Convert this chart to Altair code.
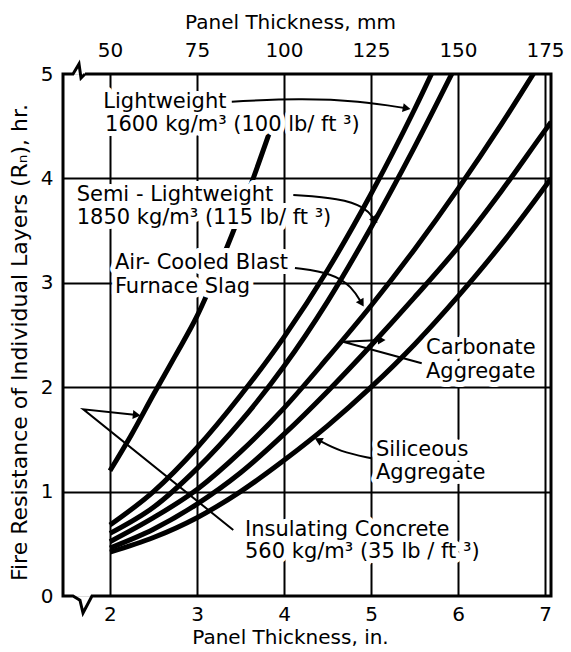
import altair as alt
import pandas as pd

FONT = "DejaVu Sans"

# ---- curve data (x = panel thickness in., y = fire resistance hr) ----
thickness_in = [2.0, 2.5, 3.0, 3.5, 4.0, 4.5, 5.0, 5.5, 6.0, 6.5, 7.0, 7.07]
lightweight = [0.68, 1.00, 1.42, 1.92, 2.48, 3.12, 3.85, 4.66, 5.55]
semi_lightweight = [0.60, 0.85, 1.22, 1.67, 2.20, 2.82, 3.53, 4.30, 5.12]
slag = [0.52, 0.75, 1.02, 1.38, 1.80, 2.28, 2.78, 3.32, 3.90, 4.52, 5.18]
carbonate = [0.46, 0.64, 0.88, 1.18, 1.55, 1.96, 2.40, 2.86, 3.34, 3.88, 4.46, 4.54]
siliceous = [0.42, 0.56, 0.75, 1.00, 1.30, 1.63, 2.00, 2.41, 2.87, 3.37, 3.92, 4.00]

insulating_in = [2.0, 2.25, 2.5, 2.75, 3.0, 3.25, 3.5, 3.85]
insulating = [1.20, 1.55, 1.93, 2.30, 2.68, 3.15, 3.67, 4.48]

# axis tick values
x_ticks = [2, 3, 4, 5, 6, 7]
y_ticks = [0, 1, 2, 3, 4, 5]

# ---- annotation labels ----
label_text = [
    "Lightweight", "1600 kg/m³ (100 lb/ ft ³)",
    "Semi - Lightweight", "1850 kg/m³ (115 lb/ ft ³)",
    "Air- Cooled Blast", "Furnace Slag",
    "Carbonate", "Aggregate",
    "Siliceous", "Aggregate",
    "Insulating Concrete", "560 kg/m³ (35 lb / ft ³)",
]
label_x = [1.923, 1.943, 1.617, 1.617, 2.057, 2.057, 5.632, 5.632, 5.057, 5.057, 3.552, 3.552]
label_y = [4.735, 4.51, 3.84, 3.62, 3.187, 2.963, 2.372, 2.148, 1.398, 1.175, 0.632, 0.425]

# ---- arrows (curved) ----
curved_id = ["lw"] * 4 + ["semi"] * 4 + ["air"] * 4 + ["sil"] * 3
curved_x = [3.40, 4.184, 4.874, 5.41, 4.107, 4.644, 4.931, 5.046, 4.126, 4.563, 4.782, 4.893, 5.008, 4.644, 4.394]
curved_y = [4.735, 4.767, 4.741, 4.671, 3.841, 3.809, 3.726, 3.602, 3.142, 3.091, 2.96, 2.804, 1.319, 1.382, 1.494]

# ---- leaders (straight) ----
leader_id = ["carb"] * 3 + ["ins"] * 3
leader_x = [5.583, 4.678, 5.123, 3.417, 1.693, 2.307]
leader_y = [2.229, 2.436, 2.452, 0.632, 1.788, 1.734]

# arrow heads
head_x = [5.41, 5.046, 4.893, 5.123, 4.394, 2.307]
head_y = [4.671, 3.602, 2.804, 2.452, 1.494, 1.734]
head_angle = [11, 52, 59, 358, 208, 6]

# frame with axis-break marks
frame_x = [1.713, 7.069, 7.069, 1.793, 1.690, 1.655, 1.575, 1.46, 1.46, 1.575, 1.644, 1.667, 1.713]
frame_y = [5.0, 5.0, 0.0, 0.0, -0.163, -0.04, 0.0, 0.0, 5.0, 5.0, 5.096, 4.962, 5.0]

# ---- build tables ----
rows = []
for name, vals, xs in [
    ("Lightweight", lightweight, thickness_in),
    ("Semi-Lightweight", semi_lightweight, thickness_in),
    ("Slag", slag, thickness_in),
    ("Carbonate", carbonate, thickness_in),
    ("Siliceous", siliceous, thickness_in),
    ("Insulating", insulating, insulating_in),
]:
    for xv, yv in zip(xs, vals):
        rows.append({"series": name, "x": xv, "y": yv})
curves_df = pd.DataFrame(rows)

labels_df = pd.DataFrame({"text": label_text, "x": label_x, "y": label_y})
curved_df = pd.DataFrame({"id": curved_id, "x": curved_x, "y": curved_y, "i": list(range(len(curved_x)))})
leader_df = pd.DataFrame({"id": leader_id, "x": leader_x, "y": leader_y, "i": list(range(len(leader_x)))})
head_df = pd.DataFrame({"x": head_x, "y": head_y, "angle": head_angle})
frame_df = pd.DataFrame({"x": frame_x, "y": frame_y, "i": list(range(len(frame_x)))})
ticks_df = pd.DataFrame({"x": x_ticks, "y": [5] * len(x_ticks)})

xs_scale = alt.Scale(domain=[1.46, 7.069], nice=False, zero=False)
ys_scale = alt.Scale(domain=[0, 5], nice=False, zero=False)

bottom_axis = alt.Axis(
    orient="bottom", values=x_ticks, format="d", grid=True, gridColor="black", gridWidth=2,
    domain=False, ticks=False, labelPadding=8, labelFontSize=20, labelFont=FONT,
    labelColor="black", title="Panel Thickness, in.", titleFontSize=20, titleFont=FONT,
    titleFontWeight="normal", titleColor="black", titleX=227, titleY=41,
    titleBaseline="middle", titleAlign="center",
)
top_axis = alt.Axis(
    orient="top", values=x_ticks, labelExpr="'' + (datum.value * 25)", grid=False,
    domain=False, ticks=False, labelPadding=14, labelFontSize=20, labelFont=FONT,
    labelColor="black", title="Panel Thickness, mm", titleFontSize=20, titleFont=FONT,
    titleFontWeight="normal", titleColor="black", titleX=227, titleY=-52,
    titleBaseline="middle", titleAlign="center",
)
y_axis = alt.Axis(
    values=y_ticks, format="d", grid=True, gridColor="black", gridWidth=2,
    gridOpacity={"condition": {"test": "datum.value == 0 || datum.value == 5", "value": 0}, "value": 1},
    domain=False, ticks=False, labelPadding=10, labelFontSize=20, labelFont=FONT,
    labelColor="black", title="Fire Resistance of Individual Layers (Rₙ), hr.",
    titleFontSize=22, titleFont=FONT, titleFontWeight="normal", titleColor="black",
    titleX=-44, titleY=268, titleBaseline="middle", titleAlign="center", titleAngle=270,
)


def X(axis=None):
    return alt.X("x:Q", scale=xs_scale, axis=axis)


def Y():
    return alt.Y("y:Q", scale=ys_scale, axis=y_axis)


curves = alt.Chart(curves_df).mark_line(
    color="black", strokeWidth=5, clip=True, interpolate="monotone", strokeCap="butt"
).encode(x=X(bottom_axis), y=Y(), detail="series:N")

top = alt.Chart(ticks_df).mark_point(opacity=0).encode(x=X(top_axis), y=Y())

halo = alt.Chart(labels_df).mark_text(
    align="left", baseline="middle", font=FONT, fontSize=21, color="white",
    stroke="white", strokeWidth=10, strokeJoin="round",
).encode(x=X(), y=Y(), text="text:N")

texts = alt.Chart(labels_df).mark_text(
    align="left", baseline="middle", font=FONT, fontSize=21, color="black",
).encode(x=X(), y=Y(), text="text:N")

curved = alt.Chart(curved_df).mark_line(
    color="black", strokeWidth=2, interpolate="basis"
).encode(x=X(), y=Y(), detail="id:N", order="i:Q")

leaders = alt.Chart(leader_df).mark_line(color="black", strokeWidth=2).encode(
    x=X(), y=Y(), detail="id:N", order="i:Q"
)

heads = alt.Chart(head_df).mark_point(
    shape="triangle-right", filled=True, color="black", size=80, opacity=1
).encode(x=X(), y=Y(), angle=alt.Angle("angle:Q", scale=None))

frame = alt.Chart(frame_df).mark_line(
    color="black", strokeWidth=3, clip=False, strokeJoin="miter"
).encode(x=X(), y=Y(), order="i:Q")

chart = alt.layer(
    curves, top, halo, curved, leaders, heads, texts, frame
).resolve_axis(x="independent").properties(
    width=488, height=522, autosize="none",
    padding={"left": 63, "top": 74, "right": 20, "bottom": 56},
).configure_view(stroke=None).configure(background="white")

chart.save("out.html", embed_options={"renderer": "svg", "actions": False})
